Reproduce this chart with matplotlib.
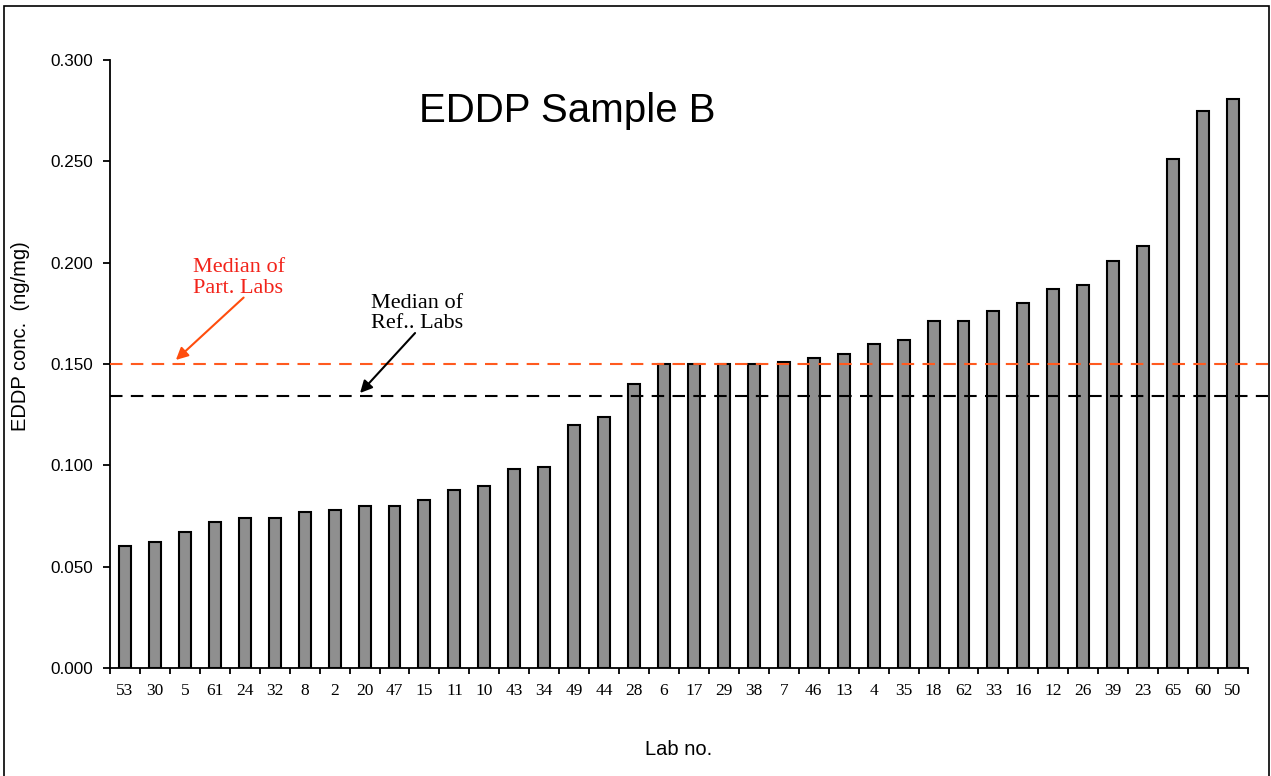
import numpy as np
import matplotlib
matplotlib.use("Agg")
import matplotlib.pyplot as plt
from matplotlib.patches import Rectangle
from matplotlib.ticker import FormatStrFormatter, FixedLocator

# Lab numbers, sorted by reported concentration
labs = ["53", "30", "5", "61", "24", "32", "8", "2", "20", "47", "15", "11", "10",
        "43", "34", "49", "44", "28", "6", "17", "29", "38", "7", "46", "13", "4",
        "35", "18", "62", "33", "16", "12", "26", "39", "23", "65", "60", "50"]

# EDDP concentration in ng/mg
conc = [0.060, 0.062, 0.067, 0.072, 0.074, 0.074, 0.077, 0.078, 0.080, 0.080,
        0.083, 0.088, 0.090, 0.098, 0.099, 0.120, 0.124, 0.140, 0.150, 0.150,
        0.150, 0.150, 0.151, 0.153, 0.155, 0.160, 0.162, 0.171, 0.171, 0.176,
        0.180, 0.187, 0.189, 0.201, 0.208, 0.251, 0.275, 0.281]

median_part = 0.150
median_ref = 0.134

sans = "Liberation Sans"
serif = "Liberation Serif"

fig = plt.figure(figsize=(12.71, 7.76), dpi=100)
ax = fig.add_axes([110 / 1271, 1 - 668 / 776, (1248 - 110) / 1271, (668 - 60) / 776])

x = np.arange(len(labs))
ax.bar(x, conc, width=0.4, color="#8f8f8f", edgecolor="black", linewidth=1.5, zorder=2)

ax.set_xlim(-0.5, len(labs) - 0.5)
ax.set_ylim(0, 0.3)

# Median lines, run slightly past the axis like in the original
ax.axhline(median_part, xmin=0, xmax=(1268 - 110) / (1248 - 110), color="#ff5a1f",
           lw=1.5, ls=(0, (6, 4)), clip_on=False, zorder=3)
ax.axhline(median_ref, xmin=0, xmax=(1268 - 110) / (1248 - 110), color="black",
           lw=1.5, ls=(0, (6, 4)), clip_on=False, zorder=3)

# Spines and ticks
for s in ["top", "right"]:
    ax.spines[s].set_visible(False)
for s in ["left", "bottom"]:
    ax.spines[s].set_linewidth(1.3)

ax.set_xticks(x)
ax.set_xticklabels(labs, fontfamily=serif, fontsize=12.5)
ax.tick_params(axis="x", which="major", length=0, pad=11)
ax.xaxis.set_minor_locator(FixedLocator(np.arange(-0.5, len(labs), 1.0)))
ax.tick_params(axis="x", which="minor", length=4, width=1.3, direction="out")

ax.set_yticks(np.arange(0, 0.301, 0.05))
ax.yaxis.set_major_formatter(FormatStrFormatter("%.3f"))
ax.tick_params(axis="y", length=5, width=1.3, direction="out", pad=7)
for lbl in ax.get_yticklabels():
    lbl.set_fontfamily(sans)
    lbl.set_fontsize(12.3)

ax.set_xlabel("Lab no.", fontfamily=sans, fontsize=14.5, labelpad=29)
ax.set_ylabel("EDDP conc.  (ng/mg)", fontfamily=sans, fontsize=14.5)
ax.yaxis.set_label_coords(-0.070, 0.546)

# Title inside the plot area
ax.text(14.76, 0.275, "EDDP Sample B", fontfamily=sans, fontsize=29,
        ha="center", va="center")

# Annotations
ax.annotate("Median of\nPart. Labs", xy=(1.70, 0.152), xytext=(2.27, 0.1925),
            fontfamily=serif, fontsize=16, color="#f2231a", ha="left", va="center",
            linespacing=1.1,
            arrowprops=dict(arrowstyle="-|>", mutation_scale=18, lw=1.5,
                            color="#ff4d0d", shrinkA=0, shrinkB=0,
                            patchA=None, relpos=(0.55, 0.0)))
ax.annotate("Median of\nRef.. Labs", xy=(7.85, 0.1357), xytext=(8.21, 0.175),
            fontfamily=serif, fontsize=16, color="black", ha="left", va="center",
            linespacing=1.1,
            arrowprops=dict(arrowstyle="-|>", mutation_scale=18, lw=1.5,
                            color="black", shrinkA=0, shrinkB=0,
                            patchA=None, relpos=(0.48, 0.0)))

# Frame around the whole chart
fig.patches.append(Rectangle((4 / 1271, -0.02), (1269 - 4) / 1271, 1.02 - 6 / 776,
                             transform=fig.transFigure, fill=False,
                             edgecolor="black", linewidth=1.2))

fig.savefig("out.png", dpi=100)
